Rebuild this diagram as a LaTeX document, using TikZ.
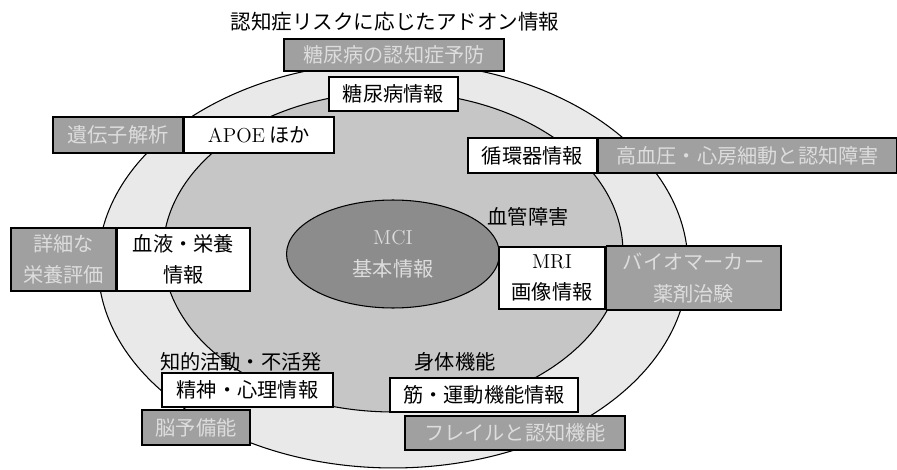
\documentclass[tikz,border=0pt]{standalone}
\usepackage{fontspec}
\newfontfamily\jp{Noto Sans CJK JP}
\usepackage{tikz}
\usetikzlibrary{positioning}
\usetikzlibrary{shapes.geometric}
\pgfdeclarelayer{bglayer}
\pgfdeclarelayer{nodelayer}
\pgfsetlayers{bglayer,main,nodelayer}
\definecolor{outerfill}{HTML}{E9E9E9}
\definecolor{innerfill}{HTML}{C6C6C6}
\definecolor{corefill}{HTML}{8C8C8C}
\definecolor{boxgray}{HTML}{A0A0A0}
\definecolor{boxtext}{HTML}{DDDDDD}
\tikzset{
    wbox/.style = {draw, fill=white, line width=0.6pt, inner sep=0pt, align=center,
        font=\jp\fontsize{11.5}{18}\selectfont},
    gbox/.style = {draw, fill=boxgray, text=boxtext, line width=0.6pt, inner sep=0pt,
        align=center, font=\jp\fontsize{11.5}{18}\selectfont},
    lbl/.style = {inner sep=0pt, font=\jp\fontsize{11.5}{14}\selectfont}
}

\begin{document}
\begin{tikzpicture}[x=0.02cm, y=-0.02cm]
    \useasboundingbox (0, 0) rectangle (897, 470);
    \begin{pgfonlayer}{bglayer}
        \filldraw [fill=outerfill, line width=0.6pt] (393, 265) ellipse [x radius=5.9cm, y radius=4.06cm];
        \filldraw [fill=innerfill, line width=0.6pt] (393, 252) ellipse [x radius=4.6cm, y radius=3.2cm];
    \end{pgfonlayer}
    \begin{pgfonlayer}{nodelayer}
        % core
        \node [ellipse, draw, fill=corefill, text=boxtext, line width=0.6pt, minimum width=4.26cm,
            minimum height=2.16cm, align=center, font=\jp\fontsize{11.5}{18}\selectfont]
            (0) at (393, 254) {{\rmfamily MCI}\\基本情報};
        \node [lbl, font=\jp\fontsize{11.7}{14}\selectfont] (1) at (395, 22) {認知症リスクに応じたアドオン情報};
        % top
        \node [gbox, minimum width=4.4cm, minimum height=0.64cm] (2) at (394, 55) {糖尿病の認知症予防};
        \node [wbox, minimum width=2.58cm, minimum height=0.68cm] (3) at (393.5, 94) {糖尿病情報};
        % left
        \node [wbox, minimum width=3.0cm, minimum height=0.72cm] (4) at (259, 135) {{\rmfamily APOE} ほか};
        \node [gbox, minimum width=2.6cm, minimum height=0.72cm, left=0pt of 4] (5) {遺伝子解析};
        \node [wbox, minimum width=2.66cm, minimum height=1.26cm] (6) at (183.5, 259.5) {血液・栄養\\情報};
        \node [gbox, minimum width=2.1cm, minimum height=1.26cm, left=0pt of 6] (7) {詳細な\\栄養評価};
        % right
        \node [wbox, minimum width=2.58cm, minimum height=0.7cm] (8) at (532.5, 155.5) {循環器情報};
        \node [gbox, minimum width=5.98cm, minimum height=0.7cm, right=0pt of 8] (9) {高血圧・心房細動と認知障害};
        \node [lbl] (10) at (528, 217) {血管障害};
        \node [wbox, minimum width=2.12cm, minimum height=1.24cm] (11) at (552, 278) {{\rmfamily MRI}\\画像情報};
        \node [gbox, minimum width=3.5cm, minimum height=1.28cm, right=0pt of 11] (12) {バイオマーカー\\薬剤治験};
        % bottom
        \node [lbl] (13) at (241, 362) {知的活動・不活発};
        \node [wbox, minimum width=3.42cm, minimum height=0.68cm] (14) at (247.5, 390) {精神・心理情報};
        \node [gbox, minimum width=2.16cm, minimum height=0.7cm] (15) at (196, 427.5) {脳予備能};
        \node [lbl] (16) at (455, 362) {身体機能};
        \node [wbox, minimum width=3.76cm, minimum height=0.68cm] (17) at (484, 395) {筋・運動機能情報};
        \node [gbox, minimum width=4.4cm, minimum height=0.68cm] (18) at (515, 433) {フレイルと認知機能};
    \end{pgfonlayer}
\end{tikzpicture}
\end{document}
